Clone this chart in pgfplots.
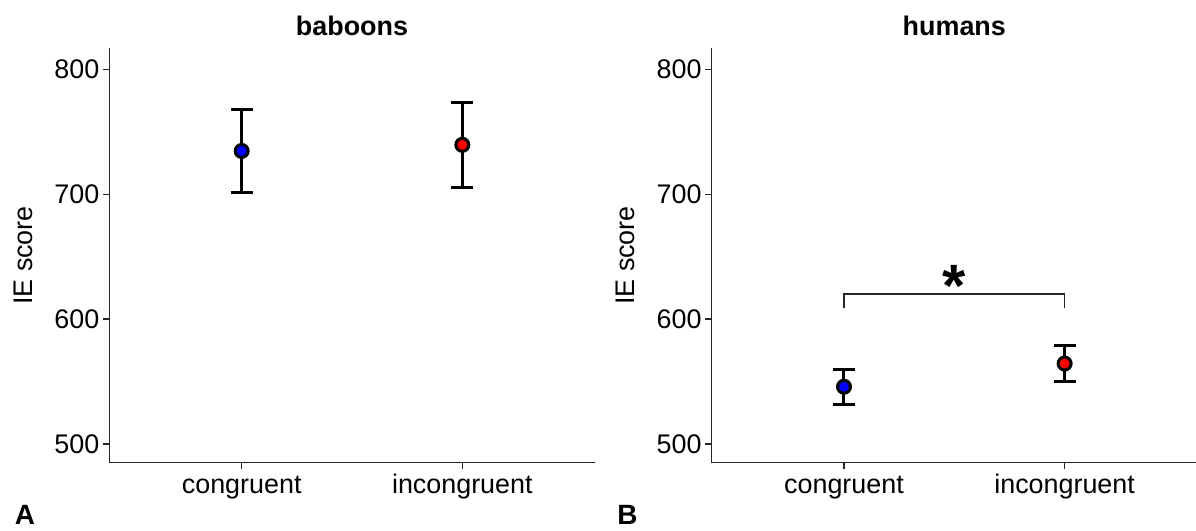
\documentclass[border=0pt]{standalone}
\usepackage{fontspec}
\setmainfont{Liberation Sans}
\usepackage{pgfplots}
\pgfplotsset{compat=1.18}
\pgfplotsset{
  myaxis/.style={
    scale only axis,
    width=242.7bp, height=207.2bp,
    anchor=south west,
    xmin=-0.6, xmax=1.6,
    ymin=485.0, ymax=816.8,
    axis x line*=bottom, axis y line*=left,
    axis line style={-, line width=0.6bp, black!85},
    xtick={0,1}, xticklabels={congruent,incongruent},
    ytick={500,600,700,800},
    tick align=outside, tick pos=left,
    major tick length=3.3bp,
    tick style={line width=0.6bp, black!85},
    /pgf/number format/assume math mode=true,
    /pgf/number format/1000 sep={},
    tick label style={font=\fontsize{13.5}{16}\selectfont},
    xticklabel style={anchor=base, yshift=-12bp},
    yticklabel style={xshift=1.8bp},
    label style={font=\fontsize{13.5}{16}\selectfont},
    every axis title shift=0pt,
    title style={font=\fontsize{13.5}{16}\selectfont\bfseries, at={(axis description cs:0.5,1)}, anchor=base, yshift=6.35bp},
    ylabel={IE score},
    ylabel style={at={(axis description cs:-0.178,0.5)}, anchor=center},
    clip=false,
  },
  ebar/.style={draw=none, mark=none, forget plot,
    error bars/.cd, y dir=both, y explicit,
    error bar style={line width=1.5bp, black},
    error mark options={rotate=90, mark size=5.5bp, line width=1.5bp, black}},
  pt/.style={only marks, mark=*, mark size=3.25bp, mark options={fill=#1, draw=black, line width=1.5bp}},
}
\begin{document}
\begin{tikzpicture}
\path[use as bounding box] (0,0) rectangle (598bp,265.5bp);
\begin{axis}[myaxis, at={(54.65bp,34.15bp)}, title={baboons}]
\addplot+[ebar] coordinates {(0,734.6) +- (0,33.4) (1,739.5) +- (0,33.8)};
\addplot[pt=blue] coordinates {(0,734.6)};
\addplot[pt=red] coordinates {(1,739.5)};
\end{axis}
\begin{axis}[myaxis, at={(355.8bp,34.15bp)}, title={humans}]
\addplot+[ebar] coordinates {(0,545.8) +- (0,13.8) (1,564.4) +- (0,14.5)};
\addplot[pt=blue] coordinates {(0,545.8)};
\addplot[pt=red] coordinates {(1,564.4)};
\draw[line width=0.6bp, black!85] (axis cs:0,609) -- (axis cs:0,620) -- (axis cs:1,620) -- (axis cs:1,609);
\node[font=\fontsize{30}{30}\selectfont\bfseries, inner sep=0pt] at (axis cs:0.5,626.5) {*};
\end{axis}
\node[anchor=west, inner sep=0pt, font=\fontsize{14}{16}\selectfont\bfseries] at (7.3bp,8bp) {A};
\node[anchor=west, inner sep=0pt, font=\fontsize{14}{16}\selectfont\bfseries] at (308.5bp,8bp) {B};
\end{tikzpicture}
\end{document}
